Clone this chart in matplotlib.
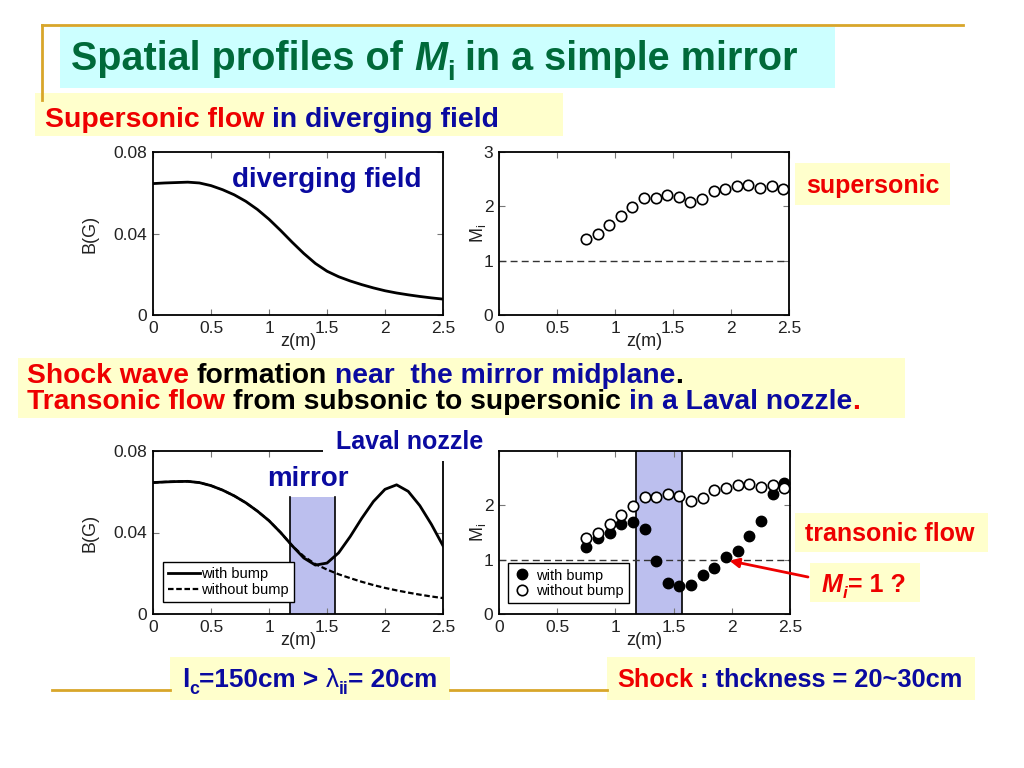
import matplotlib
matplotlib.use("Agg")
import matplotlib.pyplot as plt
from matplotlib.patches import Rectangle
from matplotlib.lines import Line2D

plt.rcParams['font.family'] = ['Liberation Sans', 'DejaVu Sans']
plt.rcParams['mathtext.fontset'] = 'custom'
plt.rcParams['mathtext.rm'] = 'Liberation Sans'
plt.rcParams['mathtext.it'] = 'Liberation Sans:italic'

# ---- data ----
z_B = [0.0, 0.1, 0.2, 0.3, 0.4, 0.5, 0.6, 0.7, 0.8, 0.9, 1.0, 1.1, 1.2,
       1.3, 1.4, 1.5, 1.6, 1.7, 1.8, 1.9, 2.0, 2.1, 2.2, 2.3, 2.4, 2.5]
B_diverging = [0.0645, 0.0648, 0.0650, 0.0652, 0.0648, 0.0635, 0.0615, 0.0590,
               0.0558, 0.0518, 0.0470, 0.0415, 0.0357, 0.0302, 0.0253, 0.0215,
               0.0188, 0.0167, 0.0149, 0.0133, 0.0119, 0.0108, 0.0099, 0.0091,
               0.0084, 0.0078]
B_no_bump = [0.0645, 0.0648, 0.0650, 0.0651, 0.0645, 0.0630, 0.0608, 0.0580,
             0.0546, 0.0505, 0.0458, 0.0400, 0.0335, 0.0283, 0.0245, 0.0218,
             0.0195, 0.0176, 0.0158, 0.0142, 0.0128, 0.0116, 0.0105, 0.0095,
             0.0086, 0.0078]
B_bump = [0.0645, 0.0648, 0.0650, 0.0651, 0.0645, 0.0630, 0.0608, 0.0580,
          0.0546, 0.0505, 0.0458, 0.0400, 0.0335, 0.0275, 0.0240, 0.0250,
          0.0300, 0.0380, 0.0470, 0.0552, 0.0612, 0.0634, 0.0602, 0.0532,
          0.0440, 0.0335]

z_M = [0.75, 0.85, 0.95, 1.05, 1.15, 1.25, 1.35, 1.45, 1.55, 1.65, 1.75,
       1.85, 1.95, 2.05, 2.15, 2.25, 2.35, 2.45]
M_no_bump = [1.39, 1.49, 1.66, 1.83, 1.98, 2.15, 2.16, 2.21, 2.18, 2.08, 2.13,
             2.28, 2.31, 2.37, 2.40, 2.34, 2.37, 2.31]
M_bump = [1.23, 1.40, 1.50, 1.65, 1.70, 1.56, 0.97, 0.57, 0.51, 0.54, 0.72,
          0.85, 1.04, 1.16, 1.43, 1.71, 2.20, 2.42]

mirror_zone = [1.18, 1.57]
x_ticks = [0, 0.5, 1, 1.5, 2, 2.5]
x_labels = ['0', '0.5', '1', '1.5', '2', '2.5']
B_ticks = [0, 0.04, 0.08]
B_labels = ['0', '0.04', '0.08']

GREEN = '#006a3a'
RED = '#ee0000'
BLUE = '#0a0aa0'
BLACK = '#000000'
YELLOW = '#ffffcc'
CYAN = '#ccffff'
GOLD = '#d8a62a'
SHADE = '#bcbfee'

W, H = 1024, 768
fig = plt.figure(figsize=(10.24, 7.68), dpi=100)
fig.patch.set_facecolor('white')
renderer = fig.canvas.get_renderer()


def box(x0, y0, x1, y1, color, z=0):
    fig.patches.append(Rectangle((x0 / W, 1 - y1 / H), (x1 - x0) / W, (y1 - y0) / H,
                                 transform=fig.transFigure, facecolor=color,
                                 edgecolor='none', zorder=z))


def gold(xs, ys):
    fig.lines.append(Line2D([x / W for x in xs], [1 - y / H for y in ys],
                            transform=fig.transFigure, color=GOLD, lw=2, zorder=1))


def width_of(s, size):
    t = fig.text(0, 0, s, fontsize=size, fontweight='bold')
    w = t.get_window_extent(renderer).width
    t.remove()
    return w


def runs(x, base, pieces, size):
    sp = width_of('n n', size) - width_of('nn', size)
    for s, color, flags in pieces:
        lead = len(s) - len(s.lstrip(' '))
        trail = len(s) - len(s.rstrip(' '))
        core = s.strip(' ')
        sub = 's' in flags
        fs = size * 0.68 if sub else size
        yb = base + (0.25 * size / 0.72 if sub else 0)
        x += lead * sp
        t = fig.text(x / W, 1 - yb / H, core, color=color, fontsize=fs,
                     fontstyle='italic' if 'i' in flags else 'normal',
                     fontweight='normal' if 'n' in flags else 'bold',
                     va='baseline', ha='left', zorder=6)
        x += t.get_window_extent(renderer).width + trail * sp


def style(ax, ylabel, ylim, yticks, ylabels, lpad):
    ax.set_xlim(0, 2.5)
    ax.set_ylim(*ylim)
    ax.set_xticks(x_ticks)
    ax.set_xticklabels(x_labels)
    ax.set_yticks(yticks)
    ax.set_yticklabels(ylabels)
    ax.tick_params(direction='in', top=True, right=True, length=4, width=0.8,
                   color='#777777', labelsize=12.5, labelcolor='#222222', pad=4)
    for sp in ax.spines.values():
        sp.set_linewidth(1.3)
    ax.set_xlabel('z(m)', fontsize=13, color='#222222', labelpad=-2)
    ax.set_ylabel(ylabel, fontsize=13, color='#222222', labelpad=lpad)


def axes_at(x0, y0, x1, y1):
    return fig.add_axes([x0 / W, 1 - y1 / H, (x1 - x0) / W, (y1 - y0) / H])


# ---- slide decoration ----
gold([42, 963], [25, 25])
gold([42, 42], [25, 100])
gold([52, 170], [690, 690])
gold([450, 607], [690, 690])
box(60, 27, 835, 88, CYAN)
box(35, 93, 563, 136, YELLOW)
box(795, 163, 950, 205, YELLOW)
box(18, 358, 905, 418, YELLOW)
box(795, 513, 988, 552, YELLOW)
box(810, 563, 920, 602, YELLOW)
box(170, 657, 450, 700, YELLOW)
box(607, 657, 975, 700, YELLOW)
box(323, 426, 497, 461, 'white', z=5)

# ---- top left: diverging field ----
ax1 = axes_at(153, 152, 443, 315)
ax1.plot(z_B, B_diverging, color='black', lw=2)
style(ax1, 'B(G)', (0, 0.08), B_ticks, B_labels, 11)

# ---- top right: supersonic Mach number ----
ax2 = axes_at(499, 152, 789, 315)
ax2.axhline(1, color='#333333', lw=1, dashes=(5, 3))
ax2.plot(z_M, M_no_bump, 'o', ms=7.5, mfc='white', mec='black', mew=1.2)
style(ax2, r'M$_\mathrm{i}$', (0, 3), [0, 1, 2, 3], ['0', '1', '2', '3'], -3)

# ---- bottom left: field with/without bump ----
ax3 = axes_at(153, 451, 443, 614)
ax3.add_patch(Rectangle((mirror_zone[0], 0), mirror_zone[1] - mirror_zone[0], 0.0575,
                        facecolor=SHADE, edgecolor='none', zorder=1))
for zz in mirror_zone:
    ax3.plot([zz, zz], [0, 0.0575], color='black', lw=1.2, zorder=2)
ax3.plot(z_B, B_bump, color='black', lw=2, zorder=3, label='with bump')
ax3.plot(z_B, B_no_bump, color='black', lw=1.6, dashes=(2.5, 1.2), zorder=3,
         label='without bump')
style(ax3, 'B(G)', (0, 0.08), B_ticks, B_labels, 11)
leg = ax3.legend(loc='lower left', bbox_to_anchor=(0.034, 0.074), borderaxespad=0,
                 fontsize=10.5, frameon=True, fancybox=False, framealpha=1,
                 edgecolor='black', handlelength=2.2, handletextpad=0.1,
                 labelspacing=0.15, borderpad=0.35)
leg.get_frame().set_linewidth(1)

# ---- bottom right: transonic Mach number ----
ax4 = axes_at(499, 451, 790, 614)
ax4.axvspan(mirror_zone[0], mirror_zone[1], facecolor=SHADE, edgecolor='none', zorder=1)
for zz in mirror_zone:
    ax4.axvline(zz, color='black', lw=1.2, zorder=2)
ax4.axhline(1, color='#333333', lw=1, dashes=(5, 3), zorder=2)
ax4.plot(z_M, M_bump, 'o', ms=7.5, color='black', zorder=3, label='with bump')
ax4.plot(z_M, M_no_bump, 'o', ms=7.5, mfc='white', mec='black', mew=1.2, zorder=4,
         label='without bump')
style(ax4, r'M$_\mathrm{i}$', (0, 3), [0, 1, 2], ['0', '1', '2'], -3)
leg = ax4.legend(loc='lower left', bbox_to_anchor=(0.031, 0.067), borderaxespad=0,
                 fontsize=10.5, frameon=True, fancybox=False, framealpha=1,
                 edgecolor='black', handlelength=1.2, handletextpad=0.4,
                 labelspacing=0.1, borderpad=0.35)
leg.get_frame().set_linewidth(1)
ax4.annotate('', xy=(1.98, 0.98), xycoords='data',
             xytext=(808, H - 577), textcoords='figure pixels',
             arrowprops=dict(arrowstyle='-|>', color=RED, lw=2, mutation_scale=14,
                             shrinkA=0, shrinkB=0),
             annotation_clip=False, zorder=7)

# ---- slide texts ----
runs(71, 70, [('Spatial profiles of ', GREEN, ''), ('M', GREEN, 'i'),
              ('i', GREEN, 's'), (' in a simple mirror', GREEN, '')], 28.5)
runs(45, 127, [('Supersonic flow', RED, ''), (' in diverging field', BLUE, '')], 20.4)
runs(232, 187, [('diverging field', BLUE, '')], 20)
runs(806, 193, [('supersonic', RED, '')], 18)
runs(27, 383, [('Shock wave', RED, ''), (' formation', BLACK, ''),
               (' near  the mirror midplane', BLUE, ''), ('.', BLACK, '')], 20.3)
runs(27, 409, [('Transonic flow', RED, ''), (' from subsonic to supersonic', BLACK, ''),
               (' in a Laval nozzle', BLUE, ''), ('.', RED, '')], 20.3)
runs(336, 449, [('Laval nozzle', BLUE, '')], 18)
runs(267, 486, [('mirror', BLUE, '')], 20)
runs(805, 541, [('transonic flow', RED, '')], 18)
runs(822, 592, [('M', RED, 'i'), ('i', RED, 'is'), ('= 1 ?', RED, '')], 18)
runs(182, 687, [('l', BLUE, ''), ('c', BLUE, 's'), ('=150cm > ', BLUE, ''),
                ('\u03bb', BLUE, 'n'), ('ii', BLUE, 's'), ('= 20cm', BLUE, '')], 18.8)
runs(617, 687, [('Shock', RED, ''), (' : thckness = 20~30cm', BLUE, '')], 18.3)

fig.savefig('out.png', dpi=100)
